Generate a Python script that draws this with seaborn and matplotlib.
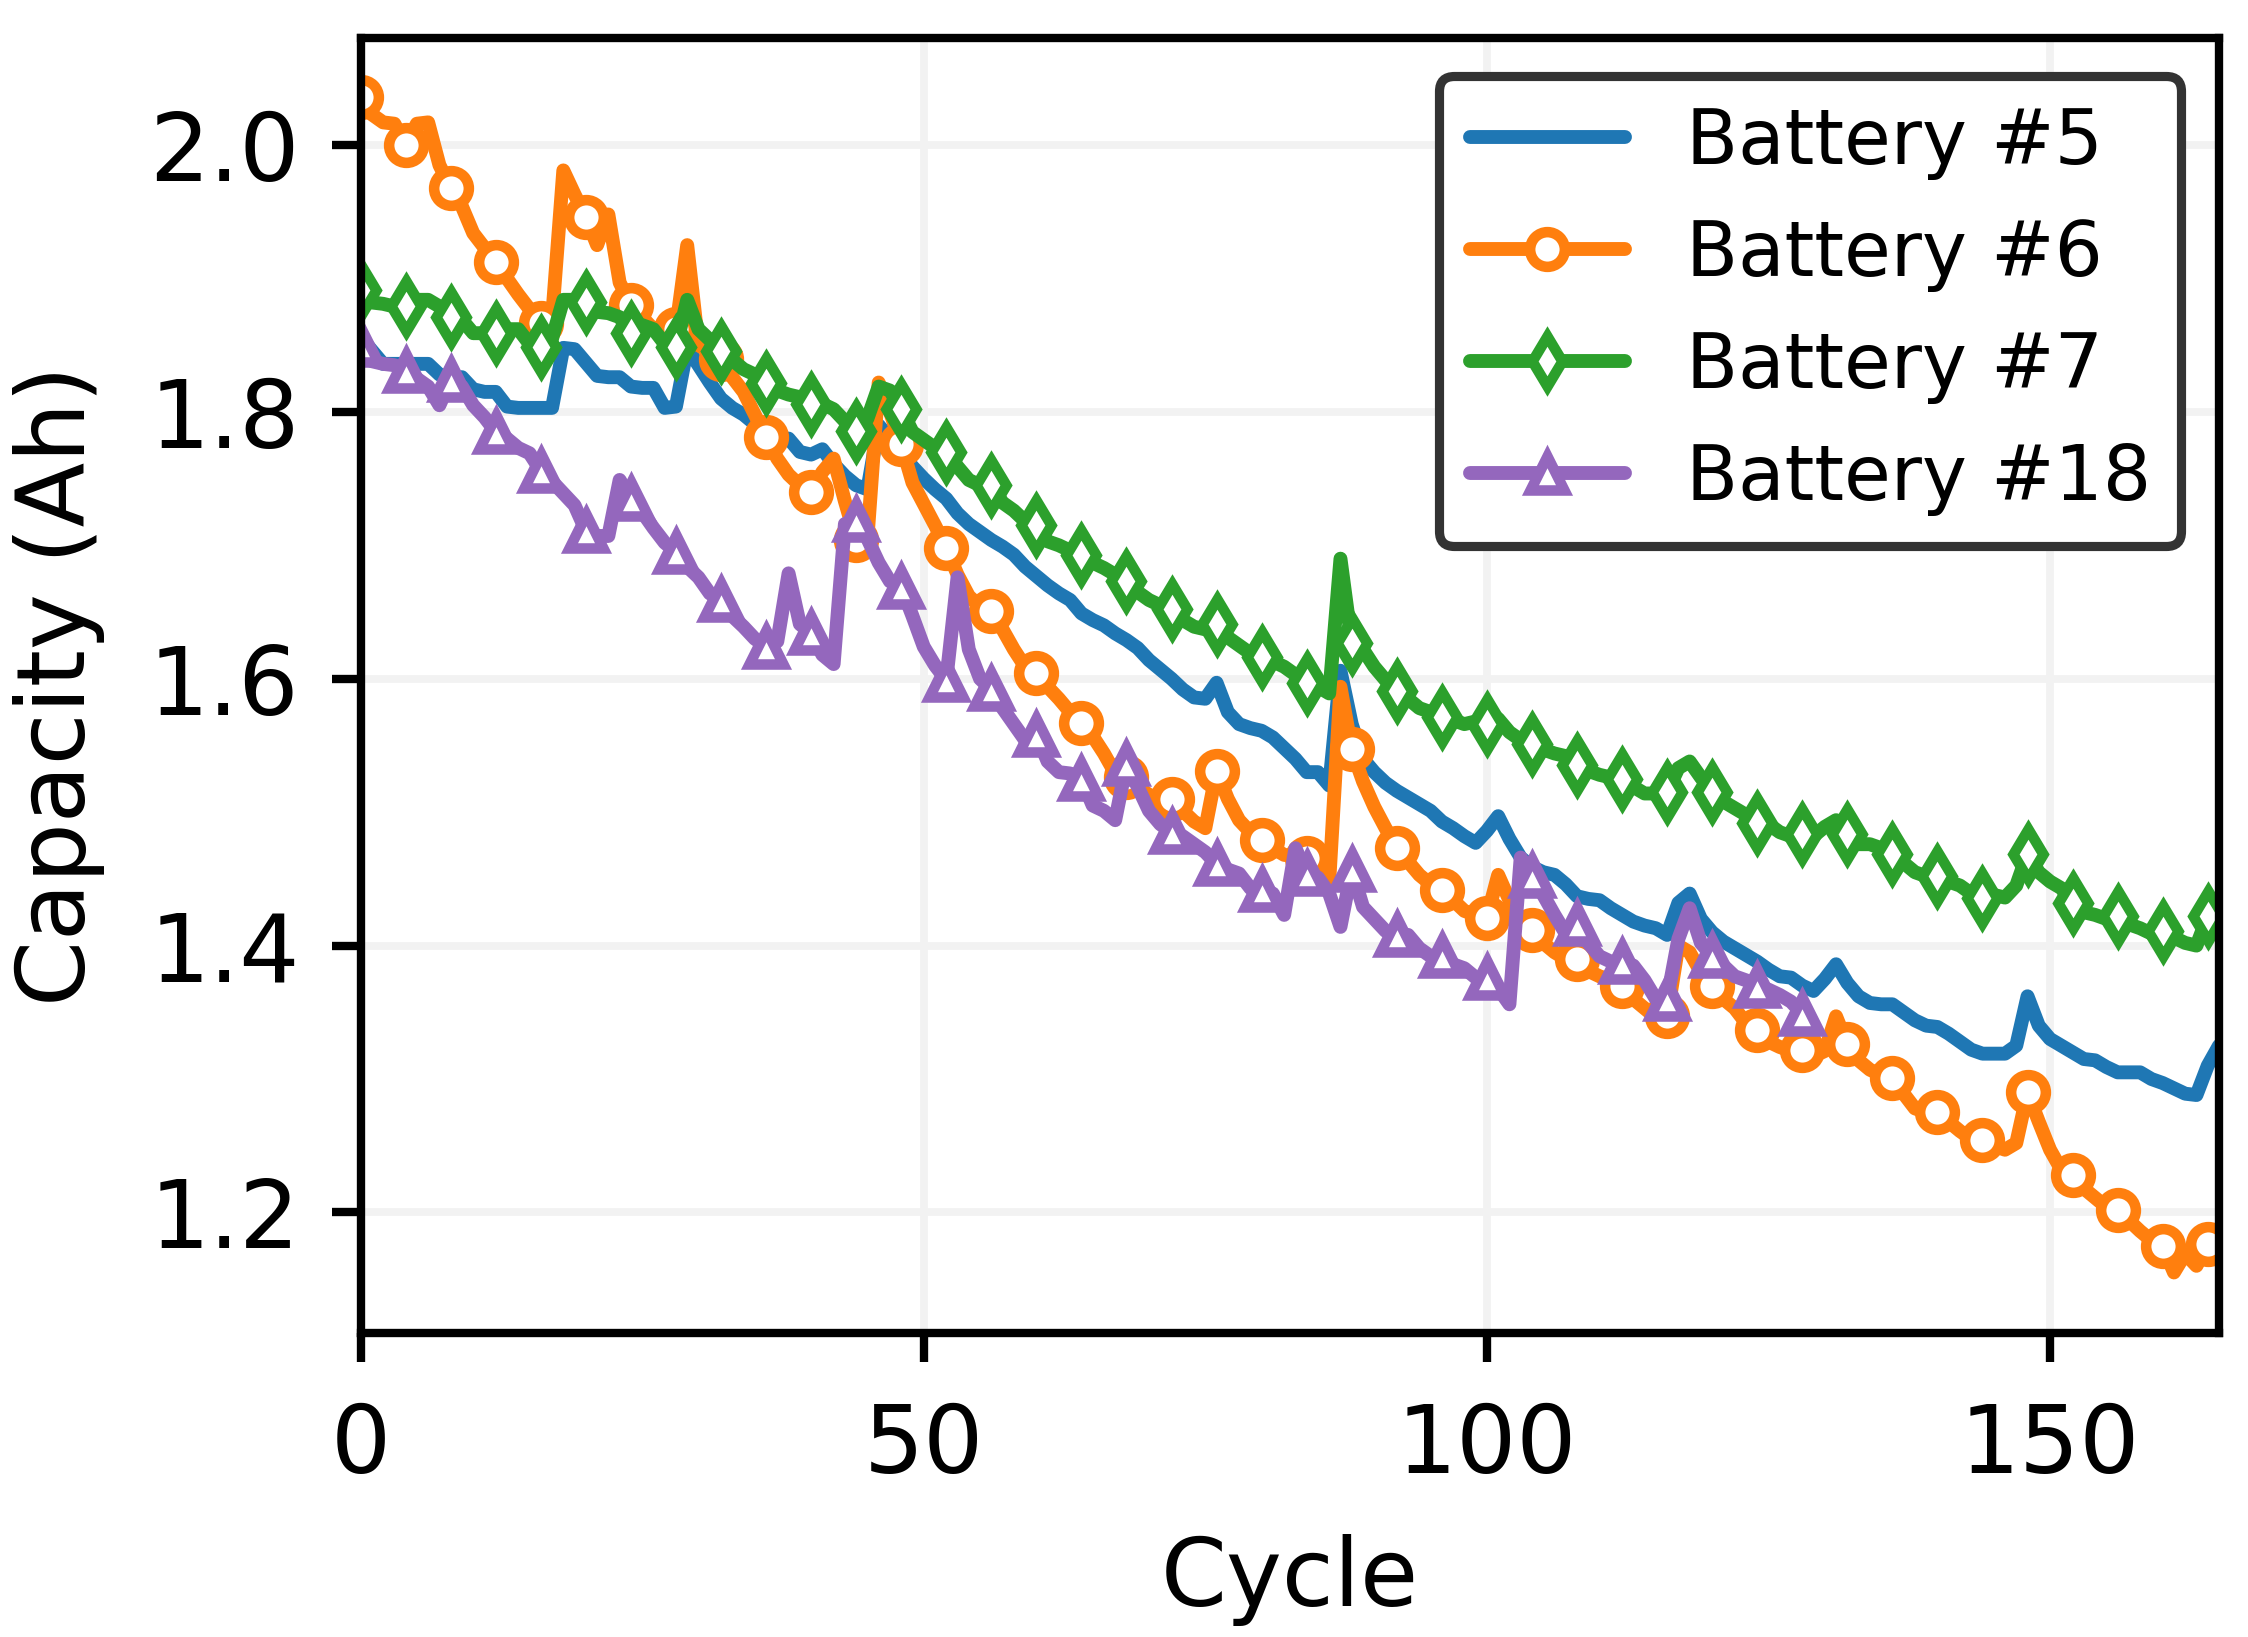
import numpy as np
import matplotlib
matplotlib.use("Agg")
import matplotlib.pyplot as plt
import seaborn as sns

# capacity per cycle
b5 = [1.856, 1.846, 1.836, 1.836, 1.836, 1.836, 1.836, 1.828, 1.826, 1.826,
      1.817, 1.815, 1.815, 1.804, 1.803, 1.803, 1.803, 1.803, 1.848, 1.847,
      1.837, 1.827, 1.826, 1.826, 1.819, 1.818, 1.818, 1.803, 1.804, 1.848,
      1.835, 1.822, 1.810, 1.803, 1.798, 1.791, 1.781, 1.780, 1.780, 1.770,
      1.768, 1.772, 1.761, 1.752, 1.745, 1.742, 1.790, 1.780, 1.770, 1.759,
      1.750, 1.742, 1.735, 1.724, 1.716, 1.710, 1.704, 1.699, 1.693, 1.684,
      1.677, 1.670, 1.664, 1.659, 1.649, 1.644, 1.640, 1.634, 1.629, 1.623,
      1.614, 1.607, 1.600, 1.592, 1.586, 1.585, 1.597, 1.575, 1.566, 1.563,
      1.561, 1.556, 1.548, 1.540, 1.530, 1.530, 1.520, 1.606, 1.566, 1.540,
      1.530, 1.522, 1.516, 1.511, 1.506, 1.501, 1.493, 1.488, 1.482, 1.477,
      1.486, 1.497, 1.480, 1.466, 1.459, 1.455, 1.453, 1.446, 1.437, 1.435,
      1.434, 1.428, 1.423, 1.418, 1.415, 1.413, 1.408, 1.432, 1.439, 1.420,
      1.410, 1.403, 1.398, 1.393, 1.388, 1.382, 1.377, 1.376, 1.370, 1.366,
      1.375, 1.386, 1.372, 1.362, 1.357, 1.356, 1.356, 1.350, 1.344, 1.340,
      1.339, 1.334, 1.328, 1.322, 1.319, 1.319, 1.319, 1.325, 1.362, 1.340,
      1.330, 1.325, 1.320, 1.315, 1.314, 1.309, 1.305, 1.305, 1.305, 1.300,
      1.297, 1.293, 1.289, 1.288, 1.310, 1.325]

b6 = [2.036, 2.023, 2.017, 2.016, 2.000, 2.016, 2.017, 1.985, 1.968, 1.954,
      1.934, 1.923, 1.912, 1.900, 1.888, 1.877, 1.867, 1.870, 1.981, 1.963,
      1.946, 1.925, 1.948, 1.897, 1.880, 1.871, 1.862, 1.865, 1.862, 1.925,
      1.850, 1.845, 1.840, 1.826, 1.815, 1.798, 1.781, 1.765, 1.753, 1.745,
      1.740, 1.755, 1.765, 1.733, 1.704, 1.705, 1.822, 1.800, 1.776, 1.747,
      1.731, 1.715, 1.698, 1.678, 1.662, 1.654, 1.651, 1.637, 1.622, 1.609,
      1.604, 1.594, 1.585, 1.575, 1.567, 1.557, 1.544, 1.529, 1.526, 1.519,
      1.513, 1.510, 1.510, 1.501, 1.493, 1.488, 1.531, 1.510, 1.494, 1.485,
      1.479, 1.473, 1.468, 1.467, 1.466, 1.460, 1.448, 1.594, 1.547, 1.523,
      1.504, 1.488, 1.473, 1.463, 1.453, 1.446, 1.442, 1.434, 1.426, 1.423,
      1.421, 1.453, 1.434, 1.418, 1.412, 1.402, 1.395, 1.390, 1.390, 1.381,
      1.377, 1.374, 1.370, 1.360, 1.353, 1.346, 1.347, 1.400, 1.395, 1.380,
      1.370, 1.360, 1.353, 1.342, 1.337, 1.328, 1.324, 1.321, 1.322, 1.317,
      1.321, 1.347, 1.326, 1.314, 1.307, 1.303, 1.301, 1.289, 1.278, 1.275,
      1.275, 1.268, 1.261, 1.255, 1.254, 1.250, 1.247, 1.252, 1.290, 1.268,
      1.247, 1.232, 1.228, 1.218, 1.211, 1.204, 1.202, 1.194, 1.186, 1.179,
      1.175, 1.155, 1.169, 1.160, 1.176, 1.165]

b7 = [1.891, 1.882, 1.881, 1.879, 1.879, 1.884, 1.884, 1.879, 1.871, 1.869,
      1.859, 1.859, 1.859, 1.862, 1.862, 1.851, 1.849, 1.855, 1.884, 1.884,
      1.882, 1.875, 1.874, 1.871, 1.859, 1.865, 1.862, 1.851, 1.849, 1.884,
      1.862, 1.854, 1.846, 1.839, 1.832, 1.828, 1.822, 1.816, 1.813, 1.811,
      1.806, 1.806, 1.802, 1.793, 1.786, 1.795, 1.819, 1.816, 1.802, 1.785,
      1.779, 1.773, 1.770, 1.759, 1.749, 1.745, 1.745, 1.732, 1.726, 1.718,
      1.715, 1.703, 1.700, 1.696, 1.693, 1.687, 1.683, 1.678, 1.673, 1.665,
      1.659, 1.655, 1.652, 1.644, 1.639, 1.637, 1.641, 1.631, 1.625, 1.619,
      1.616, 1.613, 1.609, 1.603, 1.597, 1.594, 1.589, 1.690, 1.627, 1.622,
      1.609, 1.599, 1.591, 1.585, 1.578, 1.575, 1.571, 1.569, 1.566, 1.568,
      1.566, 1.570, 1.560, 1.554, 1.551, 1.547, 1.544, 1.542, 1.535, 1.531,
      1.528, 1.526, 1.525, 1.519, 1.514, 1.514, 1.515, 1.533, 1.538, 1.526,
      1.515, 1.508, 1.503, 1.498, 1.492, 1.491, 1.485, 1.482, 1.484, 1.482,
      1.489, 1.494, 1.484, 1.476, 1.476, 1.473, 1.469, 1.462, 1.455, 1.452,
      1.452, 1.448, 1.445, 1.439, 1.436, 1.438, 1.436, 1.445, 1.469, 1.455,
      1.448, 1.443, 1.432, 1.425, 1.423, 1.420, 1.422, 1.416, 1.413, 1.409,
      1.411, 1.406, 1.402, 1.400, 1.422, 1.409]

b18 = [1.850, 1.838, 1.836, 1.835, 1.831, 1.825, 1.819, 1.805, 1.824, 1.819,
       1.805, 1.796, 1.785, 1.780, 1.773, 1.769, 1.756, 1.748, 1.739, 1.730,
       1.711, 1.707, 1.707, 1.749, 1.735, 1.725, 1.713, 1.702, 1.695, 1.684,
       1.676, 1.664, 1.659, 1.647, 1.639, 1.630, 1.624, 1.628, 1.679, 1.641,
       1.634, 1.618, 1.611, 1.716, 1.719, 1.705, 1.687, 1.673, 1.669, 1.647,
       1.624, 1.610, 1.599, 1.676, 1.622, 1.600, 1.592, 1.578, 1.566, 1.554,
       1.558, 1.538, 1.530, 1.529, 1.525, 1.505, 1.501, 1.494, 1.536, 1.519,
       1.501, 1.491, 1.485, 1.482, 1.476, 1.470, 1.461, 1.457, 1.454, 1.443,
       1.442, 1.439, 1.423, 1.473, 1.454, 1.451, 1.439, 1.414, 1.457, 1.429,
       1.420, 1.411, 1.408, 1.408, 1.398, 1.392, 1.392, 1.386, 1.383, 1.376,
       1.376, 1.368, 1.356, 1.466, 1.452, 1.438, 1.423, 1.409, 1.416, 1.402,
       1.392, 1.388, 1.388, 1.385, 1.374, 1.360, 1.360, 1.405, 1.428, 1.402,
       1.392, 1.385, 1.377, 1.374, 1.370, 1.367, 1.363, 1.358, 1.349]

labels = ["Battery #5", "Battery #6", "Battery #7", "Battery #18"]
markers = [None, "o", "d", "^"]
colors = ["#1f77b4", "#ff7f0e", "#2ca02c", "#9467bd"]

sns.set_style("ticks")
plt.rcParams['font.family'] = ['DejaVu Sans']
plt.rcParams['text.color'] = 'black'
plt.rcParams['axes.labelcolor'] = 'black'

fig, ax = plt.subplots(figsize=(11.24, 8.185), dpi=200)
fig.subplots_adjust(left=0.1604, right=0.9871, top=0.977, bottom=0.186)

for data, lab, mk, col in zip([b5, b6, b7, b18], labels, markers, colors):
    cyc = np.arange(len(data))
    kw = dict(color=col, linewidth=5.0, label=lab)
    if mk is not None:
        kw.update(marker=mk, markevery=4, markersize=12.5,
                  markerfacecolor="white", markeredgecolor=col,
                  markeredgewidth=3.8)
    sns.lineplot(x=cyc, y=data, ax=ax, **kw)

ax.set_xlim(0, 165)
ax.set_ylim(1.110, 2.0805)
ax.set_xticks([0, 50, 100, 150])
ax.set_yticks([1.2, 1.4, 1.6, 1.8, 2.0])
ax.grid(True, color="#f2f2f2", linewidth=2.8)
ax.set_axisbelow(True)

for sp in ax.spines.values():
    sp.set_color("black")
    sp.set_linewidth(3.0)
ax.tick_params(axis="both", labelsize=34, length=10.5, width=3.0,
               color="black", labelcolor="black")
ax.tick_params(axis="x", pad=14)
ax.tick_params(axis="y", pad=11.5)

ax.set_xlabel("Cycle", fontsize=34, labelpad=15, color="black")
ax.set_ylabel("Capacity (Ah)", fontsize=34, labelpad=16, color="black")

leg = ax.legend(loc="upper right", fontsize=27.3, frameon=True,
                framealpha=1, edgecolor="#333333", labelspacing=0.5,
                borderaxespad=0.5, handlelength=2.05)
leg.get_frame().set_linewidth(3.3)
for t in leg.get_texts():
    t.set_color("black")

fig.savefig("out.png", dpi=200)
